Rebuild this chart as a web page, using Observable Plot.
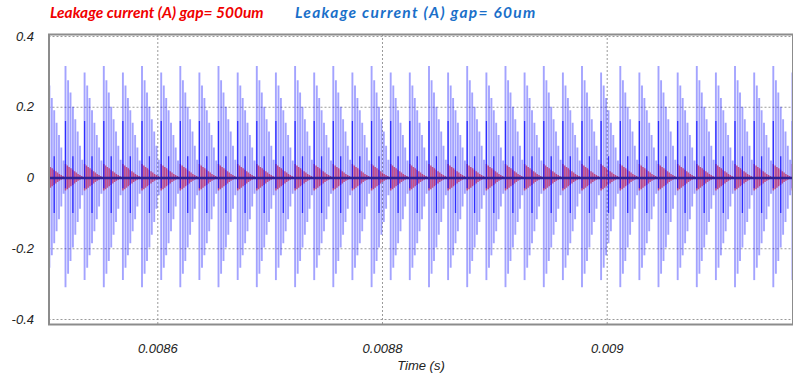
<!DOCTYPE html>
<html>
<head>
<meta charset="utf-8">
<script src="https://cdn.jsdelivr.net/npm/d3@7"></script>
<script src="https://cdn.jsdelivr.net/npm/@observablehq/plot@0.6"></script>
<style>
  html, body { margin: 0; padding: 0; background: #fff; }
  #wrap { width: 793px; height: 378px; position: relative; overflow: hidden; }
  #legend { position: relative; width: 793px; height: 28px; font-family: Lato, "Open Sans", sans-serif; font-weight: bold; font-style: italic; }
  #legend span { position: absolute; white-space: nowrap; line-height: 1; font-weight: bold; }
</style>
</head>
<body>
<div id="wrap">
  <div id="legend"></div>
  <div id="chart"></div>
</div>
<script>
// ---- data ----
const seriesNames = ["Leakage current (A) gap= 500um", "Leakage current (A) gap= 60um"];
const seriesColors = ["#f00000", "#1a6fc9"];
const xLabel = "Time (s)";
const xTicks = [0.0086, 0.0088, 0.009];
const yTicks = [-0.4, -0.2, 0, 0.2, 0.4];

// start time of each oscillation burst (s)
const burstTimes = [
  0.0085012, 0.00851785, 0.00853485, 0.00855194, 0.00856894, 0.00858594, 0.00860303, 0.00862003,
  0.00863703, 0.00865403, 0.00867112, 0.00868812, 0.00870512, 0.00872221, 0.00873921, 0.00875621,
  0.00877321, 0.0087903, 0.0088073, 0.0088243, 0.00884139, 0.00885839, 0.00887539, 0.00889248,
  0.00890948, 0.00892648, 0.00894357, 0.00896057, 0.00897757, 0.00899457, 0.00901166, 0.00902866,
  0.00904566, 0.00906275, 0.00907975, 0.00909675, 0.00911376, 0.00913085, 0.00914785, 0.00916485
];
// tall (T) or short (S) burst
const burstKind = [
  "S","T","S","T","S","T","S","T","S","T","S","T","S","T","S","T","S","T","S","S",
  "T","S","T","S","T","S","T","S","T","S","T","S","T","S","T","S","T","S","T","S"
];
// 60um gap (blue): spikes inside one burst
const blueOffsets = [0, 2.31e-6, 4.45e-6, 6.59e-6, 8.72e-6, 1.086e-5, 1.29e-5, 1.495e-5];
const blueTallHigh  = [0.315, 0.275, 0.240, 0.200, 0.165, 0.130, 0.090, 0.050];
const blueTallLow   = [-0.310, -0.272, -0.236, -0.198, -0.162, -0.126, -0.088, -0.050];
const blueShortHigh = [0.297, 0.260, 0.225, 0.190, 0.155, 0.120, 0.085, 0.048];
const blueShortLow  = [-0.290, -0.255, -0.220, -0.186, -0.152, -0.118, -0.082, -0.046];
// darker (overdrawn) strokes inside a burst
const darkOffsets = [0, 6.59e-6];
const darkHigh = [0.160, 0.060];
const darkLow  = [-0.030, -0.100];
// 500um gap (red): spikes inside one burst
const redOffsets = [0, 1.6e-6, 3.2e-6, 4.81e-6, 6.41e-6, 8.01e-6, 9.61e-6, 1.121e-5, 1.282e-5, 1.442e-5];
const redHigh = [0.038, 0.034, 0.030, 0.026, 0.022, 0.018, 0.014, 0.010, 0.007, 0.004];
const redLow  = [-0.037, -0.033, -0.029, -0.025, -0.021, -0.017, -0.013, -0.009, -0.006, -0.004];

// ---- tables built from the arrays ----
const blueSpikes = burstTimes.flatMap((t0, i) => blueOffsets.map((o, k) => ({
  t: t0 + o,
  hi: burstKind[i] === "T" ? blueTallHigh[k] : blueShortHigh[k],
  lo: burstKind[i] === "T" ? blueTallLow[k] : blueShortLow[k]
})));
const darkSpikes = burstTimes.flatMap(t0 => darkOffsets.map((o, k) => ({t: t0 + o, hi: darkHigh[k], lo: darkLow[k]})));
const redSpikes = burstTimes.flatMap(t0 => redOffsets.map((o, k) => ({t: t0 + o, hi: redHigh[k], lo: redLow[k]})));

// legend
const legend = document.getElementById("legend");
const legendStyle = [
  {left: 50, top: 5, size: 15.5, spacing: 0},
  {left: 295, top: 5, size: 15.5, spacing: 1.3}
];
legendStyle.forEach((st, i) => {
  const s = document.createElement("span");
  s.textContent = seriesNames[i];
  s.style.left = st.left + "px";
  s.style.top = st.top + "px";
  s.style.fontSize = st.size + "px";
  s.style.letterSpacing = st.spacing + "px";
  s.style.color = seriesColors[i];
  legend.appendChild(s);
});

const chart = Plot.plot({
  width: 793,
  height: 350,
  marginTop: 6,
  marginBottom: 54,
  marginLeft: 48.5,
  marginRight: 0.5,
  style: {fontFamily: "'Liberation Sans', Arial, sans-serif", fontSize: "13px", fontStyle: "italic", color: "#222", background: "#fff"},
  x: {domain: [0.00850316, 0.00916538]},
  y: {domain: [-0.4141, 0.4057]},
  marks: [
    Plot.gridX(xTicks, {stroke: "#9a9a9a", strokeOpacity: 1, strokeDasharray: "2,2"}),
    Plot.gridY(yTicks, {stroke: "#9a9a9a", strokeOpacity: 1, strokeDasharray: "2,2"}),
    Plot.ruleX(blueSpikes, {x: "t", y1: "lo", y2: "hi", stroke: "#0000ff", strokeOpacity: 0.36, strokeWidth: 1.9, clip: true}),
    Plot.ruleX(redSpikes, {x: "t", y1: "lo", y2: "hi", stroke: "#c0003a", strokeOpacity: 0.6, strokeWidth: 1.5, clip: true}),
    Plot.ruleX(darkSpikes, {x: "t", y1: "lo", y2: "hi", stroke: "#1010ff", strokeOpacity: 0.8, strokeWidth: 1.3, clip: true}),
    Plot.ruleY([0], {stroke: "#2e2196", strokeWidth: 2.6}),
    Plot.frame({stroke: "#8c8c8c", strokeWidth: 2}),
    Plot.axisX({ticks: xTicks, tickSize: 0, tickPadding: 19, tickFormat: d => String(+d.toFixed(4)), label: null}),
    Plot.axisY({ticks: yTicks, tickSize: 0, tickPadding: 15, tickFormat: d => String(+d.toFixed(1)), label: null}),
    Plot.text([xLabel], {frameAnchor: "bottom", dy: 45, text: d => d, fontSize: 13, fontStyle: "italic", fill: "#222"})
  ]
});
document.getElementById("chart").appendChild(chart);
</script>
</body>
</html>
